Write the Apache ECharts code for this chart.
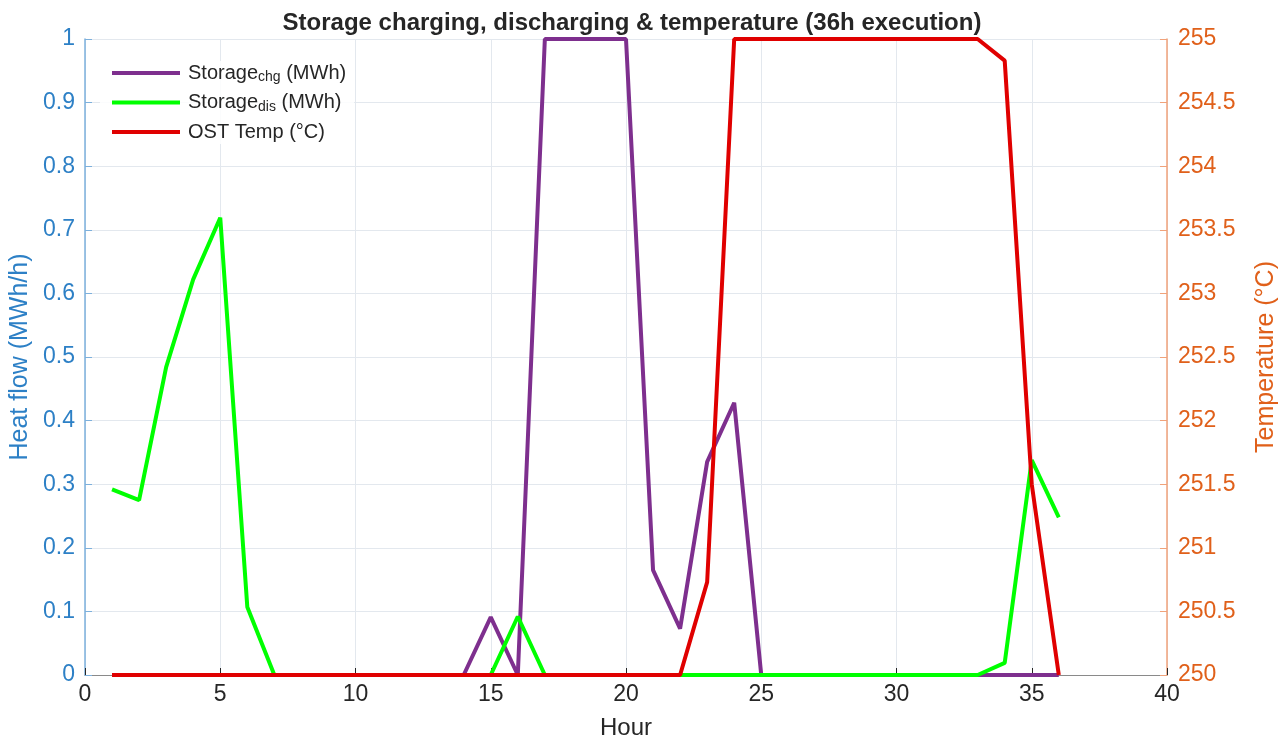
<!DOCTYPE html>
<html>
<head>
<meta charset="utf-8">
<title>Storage charging, discharging & temperature</title>
<script src="https://cdn.jsdelivr.net/npm/echarts@6/dist/echarts.min.js"></script>
<style>
  html, body { margin: 0; padding: 0; background: #fff; }
  #chart { width: 1287px; height: 739px; }
</style>
</head>
<body>
<div id="chart"></div>
<script>
// hours 1..36
const hours = [1,2,3,4,5,6,7,8,9,10,11,12,13,14,15,16,17,18,19,20,21,22,23,24,25,26,27,28,29,30,31,32,33,34,35,36];
// storage charging (MWh)
const chg = [0,0,0,0,0,0,0,0,0,0,0,0,0,0,0.091,0,1,1,1,1,0.165,0.073,0.335,0.428,0,0,0,0,0,0,0,0,0,0,0,0];
// storage discharging (MWh)
const dis = [0.292,0.275,0.484,0.622,0.719,0.107,0,0,0,0,0,0,0,0,0,0.092,0,0,0,0,0,0,0,0,0,0,0,0,0,0,0,0,0,0.019,0.338,0.248];
// OST temperature (°C)
const temp = [250,250,250,250,250,250,250,250,250,250,250,250,250,250,250,250,250,250,250,250,250,250,250.73,255,255,255,255,255,255,255,255,255,255,254.83,251.5,250];

const xTicks = [0, 40, 5];
const leftTicks = [0, 1, 0.1];
const rightTicks = [250, 255, 0.5];

const blue = '#2D80C6';
const blueLine = '#7DB0DC';
const orange = '#E0601A';
const orangeLine = '#F0A27A';
const font = 'Liberation Sans, Arial, Helvetica, sans-serif';

const pairs = (ys) => hours.map((h, i) => [h, ys[i]]);

const chart = echarts.init(document.getElementById('chart'));
const option = {
  animation: false,
  backgroundColor: '#fff',
  textStyle: { fontFamily: font },
  title: {
    text: 'Storage charging, discharging & temperature (36h execution)',
    left: 627,
    textAlign: 'center',
    top: 6,
    textStyle: { fontSize: 24, fontWeight: 'bold', color: '#262626', fontFamily: font }
  },
  grid: { left: 85, right: 120, top: 39, bottom: 64, outerBoundsMode: 'none', containLabel: false },
  legend: {
    orient: 'vertical',
    left: 100,
    top: 61,
    itemWidth: 68,
    itemHeight: 4,
    itemGap: 8,
    icon: 'rect',
    backgroundColor: 'rgba(255,255,255,0.85)',
    padding: [2, 8, 2, 12],
    data: ['chg', 'dis', 'temp'],
    formatter: (n) => ({
      chg: 'Storage{sub|chg} (MWh)',
      dis: 'Storage{sub|dis} (MWh)',
      temp: 'OST Temp (°C)'
    })[n],
    textStyle: {
      fontSize: 20,
      color: '#262626',
      fontFamily: font,
      padding: [0, 0, 0, 3],
      rich: {
        sub: { fontSize: 14, verticalAlign: 'bottom', padding: [9, 0, 0, 0], color: '#262626', fontFamily: font }
      }
    }
  },
  xAxis: {
    type: 'value',
    min: xTicks[0], max: xTicks[1], interval: xTicks[2],
    name: 'Hour',
    nameLocation: 'middle',
    nameGap: 41,
    nameTextStyle: { fontSize: 24, color: '#262626', fontFamily: font },
    axisLine: { show: true, onZero: false, lineStyle: { color: '#8a8a8a', width: 1 } },
    axisTick: { show: true, inside: true, length: 7, lineStyle: { color: '#262626' } },
    axisLabel: { fontSize: 23, color: '#262626', margin: 8, fontFamily: font },
    splitLine: { show: true, lineStyle: { color: '#e3e8ee', width: 1 } }
  },
  yAxis: [
    {
      type: 'value',
      position: 'left',
      min: leftTicks[0], max: leftTicks[1], interval: leftTicks[2],
      name: 'Heat flow (MWh/h)',
      nameLocation: 'middle',
      nameRotate: 90,
      nameGap: 47,
      nameTextStyle: { fontSize: 25, color: blue, fontFamily: font },
      axisLine: { show: true, lineStyle: { color: blueLine, width: 1.5 } },
      axisTick: { show: true, inside: true, length: 7, lineStyle: { color: blueLine } },
      axisLabel: {
        fontSize: 23, color: blue, margin: 10, fontFamily: font,
        formatter: (v) => String(+v.toFixed(1))
      },
      splitLine: { show: true, lineStyle: { color: '#e3e8ee', width: 1 } }
    },
    {
      type: 'value',
      position: 'right',
      min: rightTicks[0], max: rightTicks[1], interval: rightTicks[2],
      name: 'Temperature (°C)',
      nameLocation: 'middle',
      nameRotate: 90,
      nameGap: 87,
      nameTextStyle: { fontSize: 25, color: orange, fontFamily: font },
      axisLine: { show: true, lineStyle: { color: orangeLine, width: 1.5 } },
      axisTick: { show: true, inside: true, length: 7, lineStyle: { color: orangeLine } },
      axisLabel: { fontSize: 23, color: orange, margin: 11, fontFamily: font },
      splitLine: { show: false }
    }
  ],
  series: [
    {
      name: 'chg', type: 'line', yAxisIndex: 0, data: pairs(chg),
      showSymbol: false, color: '#7E2F8E',
      lineStyle: { width: 4, color: '#7E2F8E' }, z: 2
    },
    {
      name: 'dis', type: 'line', yAxisIndex: 0, data: pairs(dis),
      showSymbol: false, color: '#00FF00',
      lineStyle: { width: 4, color: '#00FF00' }, z: 3
    },
    {
      name: 'temp', type: 'line', yAxisIndex: 1, data: pairs(temp),
      showSymbol: false, color: '#E00000',
      lineStyle: { width: 4, color: '#E00000' }, z: 4
    }
  ]
};
chart.setOption(option);
window.addEventListener('resize', () => chart.resize());
</script>
</body>
</html>
